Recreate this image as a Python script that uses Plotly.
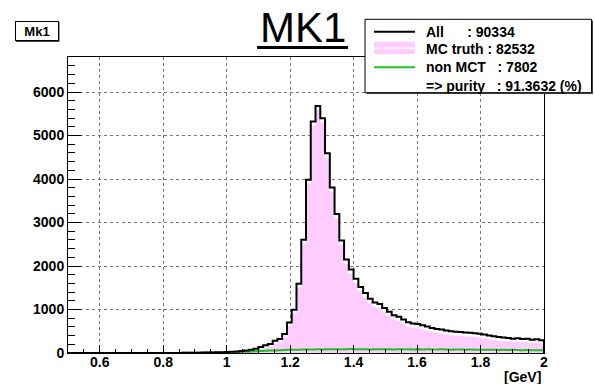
import plotly.graph_objects as go

# Histogram binning (GeV)
bin_lo, bin_hi, n_bins = 0.5, 2.0, 100

# Per-bin contents, bins 0..99
all_counts = [0] * 23 + [
    2, 3, 5, 6, 8, 10, 12,
    14, 17, 20, 25, 30, 36,
    45, 60, 76, 99, 138, 176, 207, 283, 322, 436,
    704, 995, 1592, 2603, 3981, 5322, 5681, 5399, 4595, 3805,
    3193, 2587, 2150, 1920, 1707, 1516, 1378, 1247, 1163, 1125,
    1035, 950, 870, 835, 770, 705, 680, 665, 640, 610,
    575, 550, 540, 520, 500, 490, 480, 470, 465, 455,
    440, 425, 400, 385, 365, 355, 345, 330, 340, 320, 325, 305, 315, 295,
]
mc_truth = [0] * 23 + [
    0, 0, 1, 1, 2, 2, 3,
    4, 5, 6, 9, 12, 14,
    19, 30, 41, 59, 93, 126, 152, 223, 258, 368,
    632, 921, 1516, 2525, 3901, 5240, 5597, 5317, 4510, 3719,
    3105, 2502, 2063, 1830, 1621, 1432, 1290, 1167, 1077, 1037,
    950, 863, 787, 749, 686, 617, 598, 580, 560, 526,
    493, 472, 456, 440, 424, 410, 402, 395, 386, 379,
    366, 349, 328, 310, 295, 282, 277, 258, 270, 254, 256, 241, 249, 233,
]
non_mct = [0] * 23 + [
    2, 3, 4, 5, 6, 8, 9,
    10, 12, 14, 16, 18, 22,
    26, 30, 35, 40, 45, 50, 55, 60, 64, 68,
    72, 74, 76, 78, 80, 82, 84, 82, 85, 86,
    88, 85, 87, 90, 86, 84, 88, 80, 86, 88,
    85, 87, 83, 86, 84, 88, 82, 85, 80, 84,
    82, 78, 84, 80, 76, 80, 78, 75, 79, 76,
    74, 76, 72, 75, 70, 73, 68, 72, 70, 66, 69, 64, 66, 62,
]

# Entry counts (including under/overflow) shown in the legend
n_all, n_mc, n_non = 90334, 82532, 7802
purity = 100.0 * n_mc / n_all

bin_w = (bin_hi - bin_lo) / n_bins
edges = [bin_lo + i * bin_w for i in range(n_bins + 1)]


def step_outline(counts):
    xs = [edges[0]] + edges + [edges[-1]]
    ys = [0] + list(counts) + [counts[-1], 0]
    return xs, ys


fig = go.Figure()

x_mc, y_mc = step_outline(mc_truth)
fig.add_trace(go.Scatter(x=x_mc, y=y_mc, mode="lines", line_shape="hv",
                         fill="tozeroy", fillcolor="#ffccff",
                         line=dict(color="white", width=1), hoverinfo="skip"))

x_nm, y_nm = step_outline(non_mct)
fig.add_trace(go.Scatter(x=x_nm, y=y_nm, mode="lines", line_shape="hv",
                         line=dict(color="#22c022", width=2), hoverinfo="skip"))

x_all, y_all = step_outline(all_counts)
fig.add_trace(go.Scatter(x=x_all, y=y_all, mode="lines", line_shape="hv",
                         line=dict(color="black", width=2), hoverinfo="skip"))

# plot-area geometry in pixels, used to place the pad decorations
W, H = 594, 384
ml, mr, mt, mb = 68, 50, 57, 31
pw, ph = W - ml - mr, H - mt - mb


def px(x):
    return (x - ml) / pw


def py(y):
    return (H - mb - y) / ph


axis_common = dict(
    showline=True, mirror=True, linecolor="black", linewidth=1,
    ticks="inside", tickcolor="black", tickwidth=1,
    showgrid=True, gridcolor="#777777", griddash="dot", gridwidth=1,
    zeroline=False,
    tickfont=dict(family="Liberation Sans", size=14, color="black", weight="bold"),
)

fig.update_xaxes(range=[bin_lo, bin_hi], tick0=0, dtick=0.2, ticklen=8,
                 ticklabelstandoff=-4,
                 minor=dict(dtick=0.05, tick0=0, ticks="inside", ticklen=4,
                            tickcolor="black", showgrid=False),
                 **axis_common)
fig.update_yaxes(range=[0, 6805], tick0=0, dtick=1000, ticklen=13,
                 minor=dict(dtick=200, tick0=0, ticks="inside", ticklen=7,
                            tickcolor="black", showgrid=False),
                 **axis_common)

shapes = []
annotations = []

# Title with underline
annotations.append(dict(text="MK1", x=px(302.5), y=py(27), xref="paper", yref="paper",
                        xanchor="center", yanchor="middle", showarrow=False,
                        font=dict(family="Liberation Sans", size=42, color="black")))
shapes.append(dict(type="line", xref="paper", yref="paper",
                   x0=px(257), x1=px(348), y0=py(47.5), y1=py(47.5),
                   line=dict(color="black", width=3), layer="above"))

# Histogram name box
shapes.append(dict(type="rect", xref="paper", yref="paper",
                   x0=px(16), x1=px(59.5), y0=py(42), y1=py(22),
                   fillcolor="#444444", line=dict(width=0), layer="above"))
annotations.append(dict(text="Mk1", x=px(36.5), y=py(31), xref="paper", yref="paper",
                        xanchor="center", yanchor="middle", showarrow=False,
                        width=42, height=18, borderpad=0, borderwidth=1,
                        bordercolor="black", bgcolor="white",
                        font=dict(family="Liberation Sans", size=13, color="black",
                                  weight="bold")))

# Legend box
shapes.append(dict(type="rect", xref="paper", yref="paper",
                   x0=px(366.5), x1=px(593), y0=py(94), y1=py(20.5),
                   fillcolor="#444444", line=dict(width=0), layer="above"))
shapes.append(dict(type="rect", xref="paper", yref="paper",
                   x0=px(365), x1=px(591.5), y0=py(92.7), y1=py(19.3),
                   fillcolor="white", line=dict(color="black", width=1), layer="above"))

row_y = [31.7, 49.0, 67.2, 85.7]
sx0, sx1 = px(374), px(415)
shapes.append(dict(type="line", xref="paper", yref="paper", x0=sx0, x1=sx1,
                   y0=py(row_y[0]), y1=py(row_y[0]),
                   line=dict(color="black", width=2), layer="above"))
shapes.append(dict(type="rect", xref="paper", yref="paper", x0=sx0, x1=sx1,
                   y0=py(54), y1=py(41.7), fillcolor="#ffccff",
                   line=dict(width=0), layer="above"))
shapes.append(dict(type="line", xref="paper", yref="paper", x0=sx0, x1=sx1,
                   y0=py(48.3), y1=py(48.3),
                   line=dict(color="#ffeeff", width=2), layer="above"))
shapes.append(dict(type="line", xref="paper", yref="paper", x0=sx0, x1=sx1,
                   y0=py(row_y[2]), y1=py(row_y[2]),
                   line=dict(color="#22c022", width=2), layer="above"))

nb = "\u00a0"
legend_text = [
    f"All{nb * 6}: {n_all}",
    f"MC truth : {n_mc}",
    f"non MCT{nb * 3}: {n_non}",
    f"=> purity{nb * 3}: {purity:.4f} (%)",
]
for txt, yy in zip(legend_text, row_y):
    annotations.append(dict(text=txt, x=px(424), y=py(yy), xref="paper", yref="paper",
                            xanchor="left", yanchor="middle", showarrow=False,
                            font=dict(family="Liberation Sans", size=14, color="black",
                                      weight="bold")))

# Axis unit
annotations.append(dict(text="[GeV]", x=px(543), y=py(377), xref="paper", yref="paper",
                        xanchor="right", yanchor="middle", showarrow=False,
                        font=dict(family="Liberation Sans", size=14, color="black",
                                  weight="bold")))

fig.update_layout(
    width=W, height=H,
    margin=dict(l=ml, r=mr, t=mt, b=mb),
    paper_bgcolor="white", plot_bgcolor="white",
    showlegend=False,
    shapes=shapes, annotations=annotations,
)

fig.write_html("out.html")
